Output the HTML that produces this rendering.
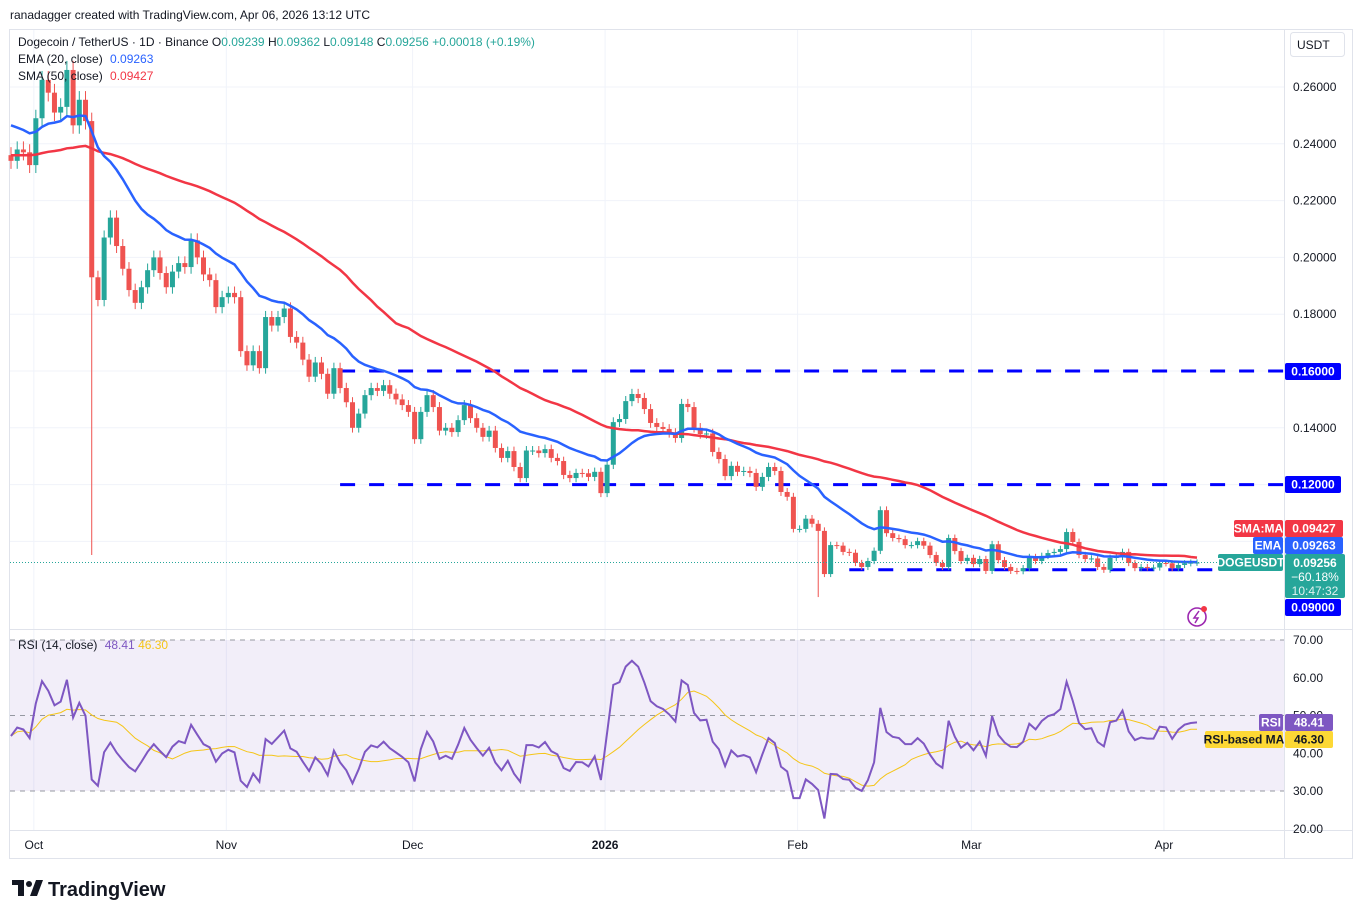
<!DOCTYPE html>
<html><head><meta charset="utf-8">
<style>
html,body{margin:0;padding:0;background:#fff;}
svg{display:block;font-family:"Liberation Sans",sans-serif;}
</style></head>
<body>
<svg id="chart" width="1362" height="919" viewBox="0 0 1362 919" xmlns="http://www.w3.org/2000/svg">
<text x="10" y="19" font-size="12" fill="#131722">ranadagger created with TradingView.com, Apr 06, 2026 13:12 UTC</text>
<rect x="9.5" y="29.5" width="1343" height="829" fill="none" stroke="#e0e3eb"/>
<g id="grid"></g>
<rect x="10" y="640" width="1274" height="151" fill="#7e57c2" fill-opacity="0.1"/>
<g id="levels"></g>
<g id="candles"></g>
<g id="mas"></g>
<g id="rsi"></g>
<line x1="1284.5" y1="30" x2="1284.5" y2="858" stroke="#e0e3eb"/>
<line x1="10" y1="629.5" x2="1352" y2="629.5" stroke="#e0e3eb"/>
<line x1="10" y1="830.5" x2="1352" y2="830.5" stroke="#e0e3eb"/>
<g id="axis"></g>
<g id="taxis"></g>
<g font-size="12">
<text x="18" y="46" fill="#131722">Dogecoin / TetherUS · 1D · Binance <tspan fill="#131722">O</tspan><tspan fill="#26a69a">0.09239</tspan> <tspan fill="#131722">H</tspan><tspan fill="#26a69a">0.09362</tspan> <tspan fill="#131722">L</tspan><tspan fill="#26a69a">0.09148</tspan> <tspan fill="#131722">C</tspan><tspan fill="#26a69a">0.09256</tspan> <tspan fill="#26a69a">+0.00018 (+0.19%)</tspan></text>
<text x="18" y="63" fill="#131722">EMA (20, close) <tspan fill="#2962ff" dx="4">0.09263</tspan></text>
<text x="18" y="80" fill="#131722">SMA (50, close) <tspan fill="#f23645" dx="4">0.09427</tspan></text>
<text x="18" y="649" fill="#131722">RSI (14, close) <tspan fill="#7e57c2" dx="4">48.41</tspan> <tspan fill="#f5c518">46.30</tspan></text>
</g>
<g>
<rect x="1290.5" y="32.5" width="54" height="24" rx="3" fill="#fff" stroke="#e0e3eb"/>
<text x="1297" y="49" font-size="12" fill="#131722">USDT</text>
</g>
<g>
<circle cx="1197" cy="617" r="9" fill="none" stroke="#9c27b0" stroke-width="1.6"/>
<path d="M1199 611 L1194 618 L1198 618 L1195 623" fill="none" stroke="#9c27b0" stroke-width="1.5"/>
<circle cx="1204" cy="609" r="3" fill="#f23645"/>
</g>
<g id="labels" font-size="12" font-weight="bold"></g>
<g>
<path d="M12 880 h12 v16 h-6 v-11 h-6z" fill="#131722"/>
<circle cx="29" cy="884" r="3" fill="#131722"/>
<path d="M30 896 l6 -16 h7 l-6 16z" fill="#131722"/>
<text x="48" y="896" font-size="20" font-weight="bold" fill="#131722">TradingView</text>
</g>
</svg>
<script>
var closes=[0.234,0.238,0.237,0.2325,0.249,0.2625,0.258,0.251,0.253,0.266,0.2465,0.2555,0.248,0.193,0.185,0.207,0.214,0.204,0.196,0.1885,0.184,0.1895,0.1955,0.200,0.1945,0.1895,0.195,0.198,0.1966,0.206,0.200,0.194,0.192,0.1825,0.186,0.1875,0.186,0.167,0.162,0.167,0.161,0.179,0.176,0.179,0.182,0.172,0.170,0.164,0.158,0.163,0.159,0.152,0.161,0.154,0.149,0.140,0.145,0.1515,0.154,0.153,0.155,0.152,0.150,0.148,0.1456,0.136,0.1456,
0.1515,0.1473,0.139,0.140,0.1385,0.1427,0.148,0.1434,0.140,0.1368,0.139,0.1329,0.1294,0.1318,0.1262,0.1223,0.132,0.132,0.1311,0.1325,0.1294,0.1283,0.1234,0.1223,0.1241,0.124,0.1227,0.1245,0.117,0.127,0.142,0.1431,0.1494,0.1519,0.1505,0.1466,0.1417,0.1403,0.1396,0.1382,0.1364,0.1484,0.1473,0.140,0.1378,0.138,0.1315,0.129,0.123,0.1266,0.1245,0.1248,0.1241,0.1192,0.1227,0.1262,0.1248,0.1174,0.1157,0.1044,0.1044,0.108,0.1062,0.1037,0.0885,0.0987,
0.0985,0.0963,0.096,0.0924,0.091,0.0931,0.0967,0.111,0.1029,0.1012,0.1008,0.0987,0.0987,0.1001,0.0985,0.0952,0.0924,0.091,0.1012,0.0966,0.0931,0.0942,0.092,0.0938,0.0896,0.099,0.0934,0.091,0.0896,0.0895,0.0906,0.0945,0.0931,0.0949,0.0959,0.0963,0.0973,0.1033,0.0998,0.0952,0.0938,0.094,0.091,0.090,0.0942,0.0945,0.0963,0.0924,0.0906,0.091,0.0908,0.0908,0.0924,0.0923,0.0906,0.0917,0.0923,0.0925,0.09256];
var firstOpen=0.236;
var lowOverrideIdx=[13,130];
var lowOverrideVal=[0.0952,0.0804];
var priceTicks=[0.26,0.24,0.22,0.20,0.18,0.16,0.14,0.12,0.10];
var rsiTicks=[70,60,50,40,30,20];
var levelPrices=[0.16,0.12,0.09];
var levelStartIdx=[53,53,135];
var monthLabels=["Oct","Nov","Dec","2026","Feb","Mar","Apr"];
var monthIdx=[4,35,65,96,127,155,186];
var emaSeed=0.2465, smaPad=0.236;
var smaLast="0.09427", emaLast="0.09263";

var NS="http://www.w3.org/2000/svg";
var X0=11, STEP=(1197-11)/(closes.length-1);
function xs(i){return X0+i*STEP;}
function py(p){return 87+(0.26-p)*2840;}
function ry(v){return 640+(70-v)*3.775;}
function mk(tag,attrs,parent){var e=document.createElementNS(NS,tag);for(var k in attrs)e.setAttribute(k,attrs[k]);parent.appendChild(e);return e;}
var G=document.getElementById('grid'),C=document.getElementById('candles'),M=document.getElementById('mas'),R=document.getElementById('rsi'),A=document.getElementById('axis'),T=document.getElementById('taxis'),L=document.getElementById('levels'),LB=document.getElementById('labels');

priceTicks.forEach(function(p){
  var g=mk('line',{x1:10,x2:1284,y1:py(p),y2:py(p),stroke:'#f0f3fa'},G);
  
  
  var t=mk('text',{x:1293,y:py(p)+4,'font-size':12,fill:'#131722'},A);
  t.textContent=p.toFixed(5);
  
  
});
monthIdx.forEach(function(d,k){
  var x=xs(d)-2;
  var g=mk('line',{x1:x,x2:x,y1:30,y2:830,stroke:'#f0f3fa'},G);
  
  
  var t=mk('text',{x:x,y:849,'font-size':12,'text-anchor':'middle',fill:'#131722','font-weight':monthLabels[k]=='2026'?'bold':'normal'},T);
  t.textContent=monthLabels[k];
  
  
});
rsiTicks.forEach(function(v){
  var t=mk('text',{x:1293,y:ry(v)+4,'font-size':12,fill:'#131722'},A);
  t.textContent=v.toFixed(2);
  
  
  if(v==70||v==50||v==30){
    var l=mk('line',{x1:10,x2:1284,y1:ry(v),y2:ry(v),stroke:'#9598a1','stroke-dasharray':'5 5'},R);
    
    
  }
});
levelPrices.forEach(function(p,k){
  var x2=k==2?1225:1284;
  var l=mk('line',{x1:xs(levelStartIdx[k]),x2:x2,y1:py(p),y2:py(p),stroke:'#0000ff','stroke-width':3,'stroke-dasharray':'15 14'},L);
  
  
});
for(var i=0;i<closes.length;i++){
  var o=i==0?firstOpen:closes[i-1], c=closes[i];
  var hi=Math.max(o,c)*1.012, lo=Math.min(o,c)*0.988;
  var oi=lowOverrideIdx.indexOf(i); if(oi>=0) lo=lowOverrideVal[oi];
  var col=c>=o?'#26a69a':'#ef5350', x=xs(i);
  var w=mk('line',{x1:x,x2:x,y1:py(hi),y2:py(lo),stroke:col,'stroke-width':1},C);
  
  
  var yt=py(Math.max(o,c)), h=Math.max(1,py(Math.min(o,c))-yt);
  var b=mk('rect',{x:x-2.5,y:yt,width:5,height:h,fill:col},C);
  
  
}
var ema=[],sma=[],e=emaSeed,k2=2/21;
for(var i=0;i<closes.length;i++){
  e=i==0?emaSeed:closes[i]*k2+e*(1-k2); ema.push(e);
  var s=0;for(var j=i-49;j<=i;j++)s+=j<0?smaPad:closes[j]; sma.push(s/50);
}
function poly(arr,fy){return arr.map(function(v,i){return xs(i).toFixed(1)+','+fy(v).toFixed(1);}).join(' ');}
var pl=mk('polyline',{points:poly(sma,py),fill:'none',stroke:'#f23645','stroke-width':2.5},M);


var pe=mk('polyline',{points:poly(ema,py),fill:'none',stroke:'#2962ff','stroke-width':2.5},M);


var last=closes[closes.length-1];
var dl=mk('line',{x1:10,x2:1284,y1:py(last),y2:py(last),stroke:'#26a69a','stroke-dasharray':'1 2'},M);


var rsi=[],ag=0.0035,al=0.0042;
for(var i=0;i<closes.length;i++){
  var prev=i==0?firstOpen:closes[i-1], d=closes[i]-prev;
  ag=(ag*13+Math.max(d,0))/14; al=(al*13+Math.max(-d,0))/14;
  rsi.push(100-100/(1+ag/al));
}
var rma=rsi.map(function(v,i){var s=0,n=0;for(var j=Math.max(0,i-13);j<=i;j++){s+=rsi[j];n++;}return s/n;});
var rm=mk('polyline',{points:poly(rma,ry),fill:'none',stroke:'#f5c518','stroke-width':1},R);


var rl=mk('polyline',{points:poly(rsi,ry),fill:'none',stroke:'#7e57c2','stroke-width':2},R);


function box(x,y,w,h,fill,txt,tc,name){
  var g=mk('g',{},LB);
  
  
  mk('rect',{x:x,y:y,width:w,height:h,rx:2,fill:fill},g);
  var t=mk('text',{x:x+w/2,y:y+h/2+4,'text-anchor':'middle',fill:tc||'#fff'},g);t.textContent=txt;
}
box(1285,363,56,17,'#0000ff','0.16000',null,'level-label-016');
box(1285,476,56,17,'#0000ff','0.12000',null,'level-label-012');
box(1234,520,49,17,'#f23645','SMA:MA',null,'sma-tag');
box(1285,520,58,17,'#f23645',smaLast,null,'sma-value-label');
box(1253,537,30,17,'#2962ff','EMA',null,'ema-tag');
box(1285,537,58,17,'#2962ff',emaLast,null,'ema-value-label');
box(1218,554,65,17,'#26a69a','DOGEUSDT',null,'symbol-tag');
var lg=mk('g',{},LB);


mk('rect',{x:1285,y:554,width:60,height:44,rx:2,fill:'#26a69a'},lg);
var t1=mk('text',{x:1315,y:567,'text-anchor':'middle',fill:'#fff'},lg);t1.textContent=last.toFixed(5);
var t2=mk('text',{x:1315,y:581,'text-anchor':'middle',fill:'#fff','font-weight':'normal'},lg);t2.textContent='−60.18%';
var t3=mk('text',{x:1315,y:595,'text-anchor':'middle',fill:'#e0f2f1','font-weight':'normal'},lg);t3.textContent='10:47:32';
box(1285,599,56,17,'#0000ff','0.09000',null,'level-label-009');
box(1259,714,24,17,'#7e57c2','RSI',null,'rsi-tag');
box(1285,714,48,17,'#7e57c2','48.41',null,'rsi-value-label');
box(1205,731,78,17,'#fdd835','RSI-based MA','#131722','rsi-ma-tag');
box(1285,731,48,17,'#fdd835','46.30','#131722','rsi-ma-value-label');
</script>
</body></html>
